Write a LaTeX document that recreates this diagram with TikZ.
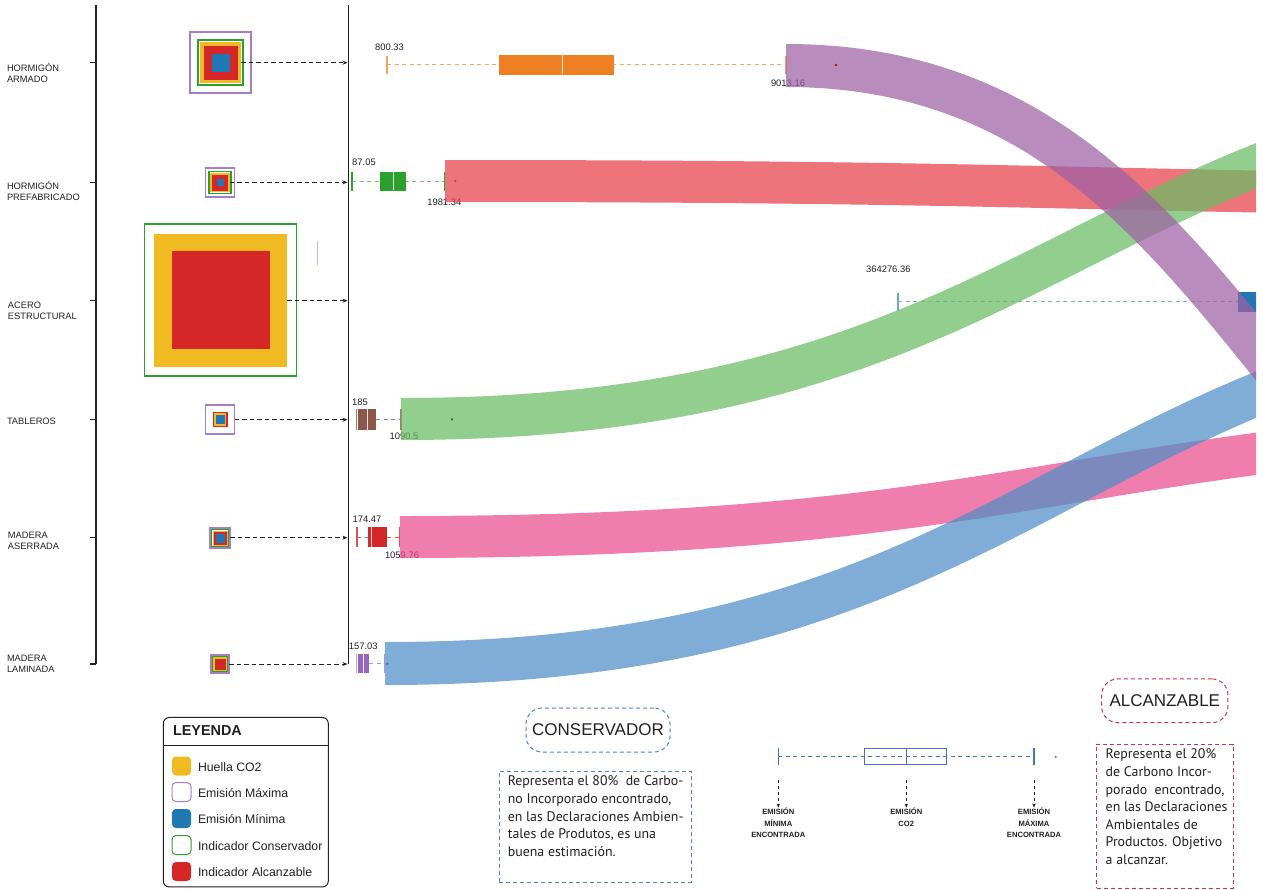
\documentclass[tikz,border=0pt]{standalone}
\usepackage{fontspec}
\setmainfont{Liberation Sans}
\newfontfamily\descfont{PT Sans}
\usetikzlibrary{arrows.meta}

% palette
\definecolor{txt}{HTML}{231F20}
\definecolor{cyellow}{HTML}{F0BB22}
\definecolor{cred}{HTML}{D62728}
\definecolor{cblue}{HTML}{1F77B4}
\definecolor{cgreen}{HTML}{2CA02C}
\definecolor{cpurple}{HTML}{A47FC8}
\definecolor{corange}{HTML}{EE7F22}
\definecolor{cbrown}{HTML}{8C564B}
\definecolor{cviolet}{HTML}{9467BD}
\definecolor{keyblue}{HTML}{4472C4}
\definecolor{dashblue}{HTML}{4A86C8}
\definecolor{dashred}{HTML}{C8324B}
% flow bands
\definecolor{bandPurple}{HTML}{9E60A5}
\definecolor{bandRed}{HTML}{E73E4A}
\definecolor{bandGreen}{HTML}{68BD62}
\definecolor{bandPink}{HTML}{EA4C8E}
\definecolor{bandBlue}{HTML}{4F8EC7}

\tikzset{
  every node/.style={inner sep=0pt, outer sep=0pt},
  catlabel/.style={anchor=west, align=left, text=txt, font=\fontsize{9.3}{11.2}\selectfont},
  numlabel/.style={text=txt, font=\fontsize{9.4}{11}\selectfont},
  axisline/.style={draw=txt, line width=1.3pt},
  sqmax/.style={draw=cpurple, line width=1.2pt, minimum size=#1},
  sqcons/.style={draw=cgreen, line width=1.1pt, minimum size=#1},
  sqhuella/.style={fill=cyellow, minimum size=#1},
  sqalc/.style={fill=cred, minimum size=#1},
  sqmin/.style={fill=cblue, minimum size=#1},
  feed/.style={draw=txt, line width=0.9pt, dash pattern=on 4.5pt off 3pt,
    -{Stealth[length=5pt,width=4pt]}},
  whisk/.style={line width=1pt, dash pattern=on 4pt off 3.5pt},
  tick/.style={line width=1.2pt},
  median/.style={draw=white, line width=1pt, opacity=0.85},
  band/.style={line width=#1, opacity=0.72, line cap=butt},
  swatch/.style={minimum size=19pt, rounded corners=4pt, line width=1pt},
  legtext/.style={anchor=west, text=txt, font=\fontsize{12.3}{14}\selectfont},
  tag/.style={rounded corners=16pt, line width=1pt, dash pattern=on 4pt off 3pt,
    font=\fontsize{17}{20}\selectfont, text=txt},
  descbox/.style={line width=1pt, dash pattern=on 4pt off 3pt, anchor=north west},
  desc/.style={anchor=north west, align=left, text=txt,
    font=\descfont\fontsize{13.9}{17.6}\selectfont},
  keylabel/.style={anchor=north, align=center, text=txt,
    font=\bfseries\fontsize{7.6}{11.8}\selectfont},
  keyarrow/.style={draw=txt, line width=0.9pt, dash pattern=on 3pt off 3pt,
    -{Stealth[length=4pt,width=3.5pt]}}
}

\begin{document}
\begin{tikzpicture}[x=1pt,y=-1pt]
\useasboundingbox (0,0) rectangle (1263,889);

% ---------- category axis ----------
\draw[axisline] (96,5) -- (96,664);
\draw[axisline] (348.5,5) -- (348.5,664);
\foreach \yy in {62.7,182.3,300.7,419.7,537.7,664}
  \draw[axisline] (90,\yy) -- (96,\yy);

\node[catlabel] (lblA) at (7,72.9) {HORMIGÓN\\ARMADO};
\node[catlabel] (lblB) at (7,191.3) {HORMIGÓN\\PREFABRICADO};
\node[catlabel] (lblC) at (8,310.5) {ACERO\\ESTRUCTURAL};
\node[catlabel] (lblD) at (7,421.7) {TABLEROS};
\node[catlabel] (lblE) at (8,541.2) {MADERA\\ASERRADA};
\node[catlabel] (lblF) at (7,663.8) {MADERA\\LAMINADA};

% arrow targets on the second axis
\coordinate (inA) at (347.5,62.7);
\coordinate (inB) at (347.5,182.3);
\coordinate (inC) at (347.5,300.7);
\coordinate (inD) at (347.5,419.7);
\coordinate (inE) at (347.5,537.7);
\coordinate (inF) at (347.5,664);

% ---------- nested indicator squares ----------
% hormigon armado
\node[sqmax=61pt] (maxA) at (220.5,62.5) {};
\node[sqcons=45pt] (consA) at (220.5,62.5) {};
\node[sqhuella=41pt] (hueA) at (220.5,62.5) {};
\node[sqalc=34pt] (alcA) at (220.5,62.5) {};
\node[sqmin=18pt] (minA) at (220.5,62.5) {};
% hormigon prefabricado
\node[sqmax=29pt] (maxB) at (220,182.5) {};
\node[sqcons=22pt] (consB) at (220,182.5) {};
\node[sqhuella=19.5pt] (hueB) at (220,182.5) {};
\node[sqalc=16pt] (alcB) at (220,182.5) {};
\node[sqmin=7pt] (minB) at (220,182.5) {};
% acero estructural
\node[sqcons=152pt] (consC) at (220.5,300) {};
\node[sqhuella=133pt] (hueC) at (220.5,300) {};
\node[sqalc=98pt] (alcC) at (220.5,300) {};
\draw[draw=cgreen!45, line width=1pt] (317,241) -- (317,265);
% tableros
\node[sqmax=29pt] (maxD) at (220,419.5) {};
\node[sqalc=15pt] (alcD) at (220,419.5) {};
\node[sqhuella=12.5pt] (hueD) at (220,419.5) {};
\node[sqmin=9pt] (minD) at (220,419.5) {};
% madera aserrada
\node[sqmax=20pt] (maxE) at (220,538) {};
\node[sqcons=17pt] (consE) at (220,538) {};
\node[sqhuella=15pt] (hueE) at (220,538) {};
\node[sqalc=13pt] (alcE) at (220,538) {};
\node[sqmin=9pt] (minE) at (220,538) {};
% madera laminada
\node[sqmax=18pt] (maxF) at (220,664) {};
\node[sqcons=15.5pt] (consF) at (220,664) {};
\node[sqhuella=13.5pt] (hueF) at (220,664) {};
\node[sqalc=11pt] (alcF) at (220,664) {};

\draw[feed] (hueA.east |- inA) -- (inA);
\draw[feed] (hueB.east |- inB) -- (inB);
\draw[feed] (hueC.east |- inC) -- (inC);
\draw[feed] (maxD.east |- inD) -- (inD);
\draw[feed] (maxE.east |- inE) -- (inE);
\draw[feed] (maxF.east |- inF) -- (inF);

% ---------- box plots ----------
\begin{scope}
\clip (0,0) rectangle (1256,889);
% row A
\draw[whisk, draw=corange!70] (387,64.8) -- (786,64.8);
\draw[tick, draw=corange!70] (387,55.7) -- (387,74);
\draw[tick, draw=corange!70] (786,55.7) -- (786,74);
\node[fill=corange, minimum width=115pt, minimum height=19.7pt] (boxA) at (556.5,64.8) {};
\draw[median] (562,55.2) -- (562,74.4);
% row B
\draw[whisk, draw=cgreen!65] (352,181) -- (444.7,181);
\draw[tick, draw=cgreen] (352,171.5) -- (352,190.5);
\draw[tick, draw=cgreen] (444.7,171.5) -- (444.7,190.5);
\node[fill=cgreen, minimum width=25.7pt, minimum height=19pt] (boxB) at (392.85,181) {};
\draw[median] (393.7,171.8) -- (393.7,190.2);
% row C
\draw[whisk, draw=cblue!60] (898,301.7) -- (1238,301.7);
\draw[tick, draw=cblue!65] (898,292.7) -- (898,311);
\node[fill=cblue, minimum width=40pt, minimum height=20pt] (boxC) at (1258,302) {};
% row D
\draw[whisk, draw=cbrown!80] (376,419.5) -- (401,419.5);
\draw[tick, draw=cbrown!80] (356.8,409) -- (356.8,430);
\draw[tick, draw=cbrown!80] (401,409) -- (401,430);
\node[fill=cbrown, minimum width=18pt, minimum height=21pt] (boxD) at (367,419.5) {};
\draw[median] (367.7,409.3) -- (367.7,429.7);
% row E
\draw[whisk, draw=cred!80] (357,537) -- (368,537);
\draw[whisk, draw=cred!80] (387,537) -- (400,537);
\draw[tick, draw=cred!80] (357,527.2) -- (357,546.7);
\draw[tick, draw=cred!80] (399.7,527.2) -- (399.7,546.7);
\node[fill=cred, minimum width=19pt, minimum height=19.5pt] (boxE) at (377.5,537) {};
\draw[median] (371.7,527.4) -- (371.7,546.5);
% row F
\draw[whisk, draw=cviolet!70] (369,663.5) -- (385,663.5);
\draw[tick, draw=cviolet!60] (356.2,654) -- (356.2,673);
\draw[tick, draw=cviolet!70] (384.7,654) -- (384.7,673);
\node[fill=cviolet, minimum width=11pt, minimum height=19pt] (boxF) at (363.5,663.5) {};
\draw[median] (363.5,654.3) -- (363.5,672.7);

% value labels
\node[numlabel] (vA1) at (389.5,47) {800.33};
\node[numlabel] (vA2) at (788,83.3) {9013.16};
\node[numlabel] (vB1) at (364,162.3) {87.05};
\node[numlabel] (vB2) at (444.3,202.7) {1981.34};
\node[numlabel] (vC1) at (888.3,269) {364276.36};
\node[numlabel] (vD1) at (360,402.7) {185};
\node[numlabel] (vD2) at (404,436.7) {1090.5};
\node[numlabel] (vE1) at (367,519.5) {174.47};
\node[numlabel] (vE2) at (402,555.3) {1059.76};
\node[numlabel] (vF1) at (363.3,646.7) {157.03};

% ---------- flow bands ----------
\coordinate (fRedS) at (445,181);    \coordinate (fRedT) at (1760,195.6);
\coordinate (fGrnS) at (401,419);    \coordinate (fGrnT) at (1760,76.7);
\coordinate (fPnkS) at (400,537);    \coordinate (fPnkT) at (1760,424.7);
\coordinate (fBluS) at (385,663.5);  \coordinate (fBluT) at (1760,303.5);
\coordinate (fPurS) at (786,65.5);   \coordinate (fPurT) at (1760,669);

\draw[band=42pt, draw=bandRed] (fRedS) .. controls (1102.5,181) and (1102.5,195.6) .. (fRedT);
\draw[band=42pt, draw=bandGreen] (fGrnS) .. controls (1080.5,419) and (1080.5,76.7) .. (fGrnT);
\draw[band=42pt, draw=bandPink] (fPnkS) .. controls (1080,537) and (1080,424.7) .. (fPnkT);
\draw[band=43pt, draw=bandBlue] (fBluS) .. controls (1072.5,663.5) and (1072.5,303.5) .. (fBluT);
\draw[band=43pt, draw=bandPurple] (fPurS) .. controls (1273,65.5) and (1273,669) .. (fPurT);

% outliers
\fill[cred!70!black] (836,65) circle (1.3pt);
\fill[cbrown] (455.3,181) circle (1.3pt);
\fill[cgreen!70!black] (452,419.3) circle (1.2pt);
\fill[cblue] (387.3,663.8) circle (1.3pt);
\end{scope}

% ---------- legend ----------
\node[draw=txt, line width=1pt, rounded corners=6pt, minimum width=165pt, minimum height=169.5pt] (legend) at (245.8,802.2) {};
\draw[draw=txt, line width=1pt] (legend.west |- 0,745) -- (legend.east |- 0,745);
\node[anchor=west, text=txt, font=\bfseries\fontsize{14.4}{16}\selectfont] (legTitle) at (173,731) {LEYENDA};
\node[swatch, fill=cyellow] (swA) at (181.5,766) {};
\node[swatch, draw=cpurple, fill=white] (swB) at (181.5,792) {};
\node[swatch, fill=cblue] (swC) at (181.5,818.5) {};
\node[swatch, draw=cgreen, fill=white] (swD) at (181.5,845) {};
\node[swatch, fill=cred] (swE) at (181.5,871.5) {};
\node[legtext] (ltA) at (198,767) {Huella CO2};
\node[legtext] (ltB) at (198,793) {Emisión Máxima};
\node[legtext] (ltC) at (198,819.5) {Emisión Mínima};
\node[legtext] (ltD) at (198,846) {Indicador Conservador};
\node[legtext] (ltE) at (198,872.5) {Indicador Alcanzable};

% ---------- conservador ----------
\node[tag, draw=dashblue, minimum width=144pt, minimum height=44pt] (consTag) at (598,730) {CONSERVADOR};
\node[descbox, draw=dashblue, minimum width=191.7pt, minimum height=111.7pt] (consBox) at (499.3,771) {};
\node[desc] (consTxt) at ([xshift=8.5pt,yshift=-5pt]consBox.north west)
  {Representa el 80\%\ \ de Carbo-\\no Incorporado encontrado,\\en las Declaraciones Ambien-\\tales de Produtos, es una\\buena estimación.};

% ---------- alcanzable ----------
\node[tag, draw=dashred, minimum width=126.3pt, minimum height=43.7pt] (alcTag) at (1164.8,700.8) {ALCANZABLE};
\node[descbox, draw=dashred, minimum width=136.3pt, minimum height=144pt] (alcBox) at (1096.7,744) {};
\node[desc] (alcTxt) at ([xshift=9pt,yshift=-5pt]alcBox.north west)
  {Representa el 20\%\\de Carbono Incor-\\porado\ \ encontrado,\\en las Declaraciones\\Ambientales de\\Productos. Objetivo\\a alcanzar.};

% ---------- box plot key ----------
\draw[line width=1pt, draw=keyblue, dash pattern=on 4pt off 3.5pt] (778.3,756.7) -- (1034,756.7);
\draw[line width=1.2pt, draw=keyblue] (778.3,748) -- (778.3,765);
\draw[line width=1.2pt, draw=keyblue] (1034,748) -- (1034,765);
\node[draw=keyblue, line width=1pt, minimum width=82.4pt, minimum height=16.3pt] (keyBox) at (905.5,756.2) {};
\draw[line width=1pt, draw=keyblue] (906.3,748) -- (906.3,764.4);
\fill[keyblue] (1055.7,757) circle (1.1pt);

\coordinate (kMinTop) at (778.3,780);
\coordinate (kMedTop) at (906.3,780);
\coordinate (kMaxTop) at (1034,780);
\node[keylabel] (kMin) at (778.3,807.5) {EMISIÓN\\MÍNIMA\\ENCONTRADA};
\node[keylabel] (kMed) at (906.3,807.5) {EMISIÓN\\CO2};
\node[keylabel] (kMax) at (1034,807.5) {EMISIÓN\\MÁXIMA\\ENCONTRADA};
\draw[keyarrow] (kMinTop) -- (kMin.north);
\draw[keyarrow] (kMedTop) -- (kMed.north);
\draw[keyarrow] (kMaxTop) -- (kMax.north);

\end{tikzpicture}
\end{document}
